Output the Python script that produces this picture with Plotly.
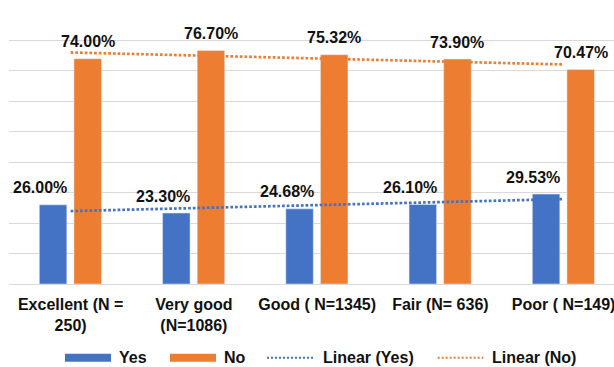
import numpy as np
import plotly.graph_objects as go

categories = ["Excellent (N =<br>250)", "Very good<br>(N=1086)", "Good ( N=1345)",
              "Fair (N= 636)", "Poor ( N=149)"]
yes_values = [26.00, 23.30, 24.68, 26.10, 29.53]
no_values = [74.00, 76.70, 75.32, 73.90, 70.47]

BLUE = "#4472C4"
ORANGE = "#ED7D31"
FONT = "Liberation Sans, Arial, sans-serif"

W, H = 614, 367
L, T, B = 9, 9.5, 83          # margins in px
plot_w = W - L
plot_h = H - T - B
slot_px = 123.25              # width of one category in px

x = np.arange(len(categories))
bar_w = 0.223
yes_off = -0.254
no_off = 0.027

fig = go.Figure()
fig.add_trace(go.Bar(x=x, y=yes_values, name="Yes", marker_color=BLUE,
                     width=bar_w, offset=yes_off))
fig.add_trace(go.Bar(x=x, y=no_values, name="No", marker_color=ORANGE,
                     width=bar_w, offset=no_off))

# linear trend lines fitted to each series
for vals, col, name in [(yes_values, BLUE, "Linear (Yes)"), (no_values, ORANGE, "Linear (No)")]:
    coef = np.polyfit(x, vals, 1)
    fig.add_trace(go.Scatter(x=x, y=np.polyval(coef, x), mode="lines", name=name,
                             line=dict(color=col, width=2.7, dash="2.7px,2px")))

# value labels
annotations = []
for i in x:
    annotations.append(dict(x=i + yes_off + bar_w / 2, y=yes_values[i], xref="x", yref="y",
                            text=f"{yes_values[i]:.2f}%", showarrow=False,
                            yshift=17, xshift=-13, yanchor="middle",
                            font=dict(family=FONT, size=16, color="#111111", weight="bold")))
    annotations.append(dict(x=i + no_off + bar_w / 2, y=no_values[i], xref="x", yref="y",
                            text=f"{no_values[i]:.2f}%", showarrow=False,
                            yshift=17, yanchor="middle",
                            font=dict(family=FONT, size=16, color="#111111", weight="bold")))


def px_x(p):
    return (p - L) / plot_w


def px_y(p):
    return (H - B - p) / plot_h


# legend drawn below the plot
shapes = []
leg_y = 358
legend_items = [
    ("Yes", "rect", BLUE, 65, 111, 116.7),
    ("No", "rect", ORANGE, 170, 216, 221.7),
    ("Linear (Yes)", "line", BLUE, 267, 315, 320.7),
    ("Linear (No)", "line", ORANGE, 437.7, 483.3, 490),
]
for label, kind, col, x0, x1, tx in legend_items:
    if kind == "rect":
        shapes.append(dict(type="rect", xref="paper", yref="paper",
                           x0=px_x(x0), x1=px_x(x1), y0=px_y(leg_y + 4), y1=px_y(leg_y - 4),
                           fillcolor=col, line=dict(width=0)))
    else:
        shapes.append(dict(type="line", xref="paper", yref="paper",
                           x0=px_x(x0), x1=px_x(x1), y0=px_y(leg_y), y1=px_y(leg_y),
                           line=dict(color=col, width=2, dash="2px,2px")))
    annotations.append(dict(x=px_x(tx), y=px_y(leg_y), xref="paper", yref="paper",
                            text=label, showarrow=False, xanchor="left", yanchor="middle",
                            font=dict(family=FONT, size=16, color="#111111", weight="bold")))

fig.update_layout(
    width=W, height=H,
    margin=dict(l=L, r=0, t=T, b=B),
    plot_bgcolor="white", paper_bgcolor="white",
    barmode="overlay",
    showlegend=False,
    annotations=annotations,
    shapes=shapes,
    font=dict(family=FONT, size=16, color="#111111"),
)
fig.update_xaxes(
    range=[-0.5, -0.5 + plot_w / slot_px],
    tickvals=list(x), ticktext=categories,
    showgrid=False, zeroline=False,
    showline=True, linecolor="#D9D9D9", linewidth=1,
    ticks="", ticklabelstandoff=6, ticklabeloverflow="allow",
    tickfont=dict(family=FONT, size=16, color="#111111", weight="bold"),
)
fig.update_yaxes(
    range=[0, 90], dtick=10, showticklabels=False,
    showgrid=True, gridcolor="#D9D9D9", gridwidth=1, zeroline=False,
)

fig.write_html("out.html")
